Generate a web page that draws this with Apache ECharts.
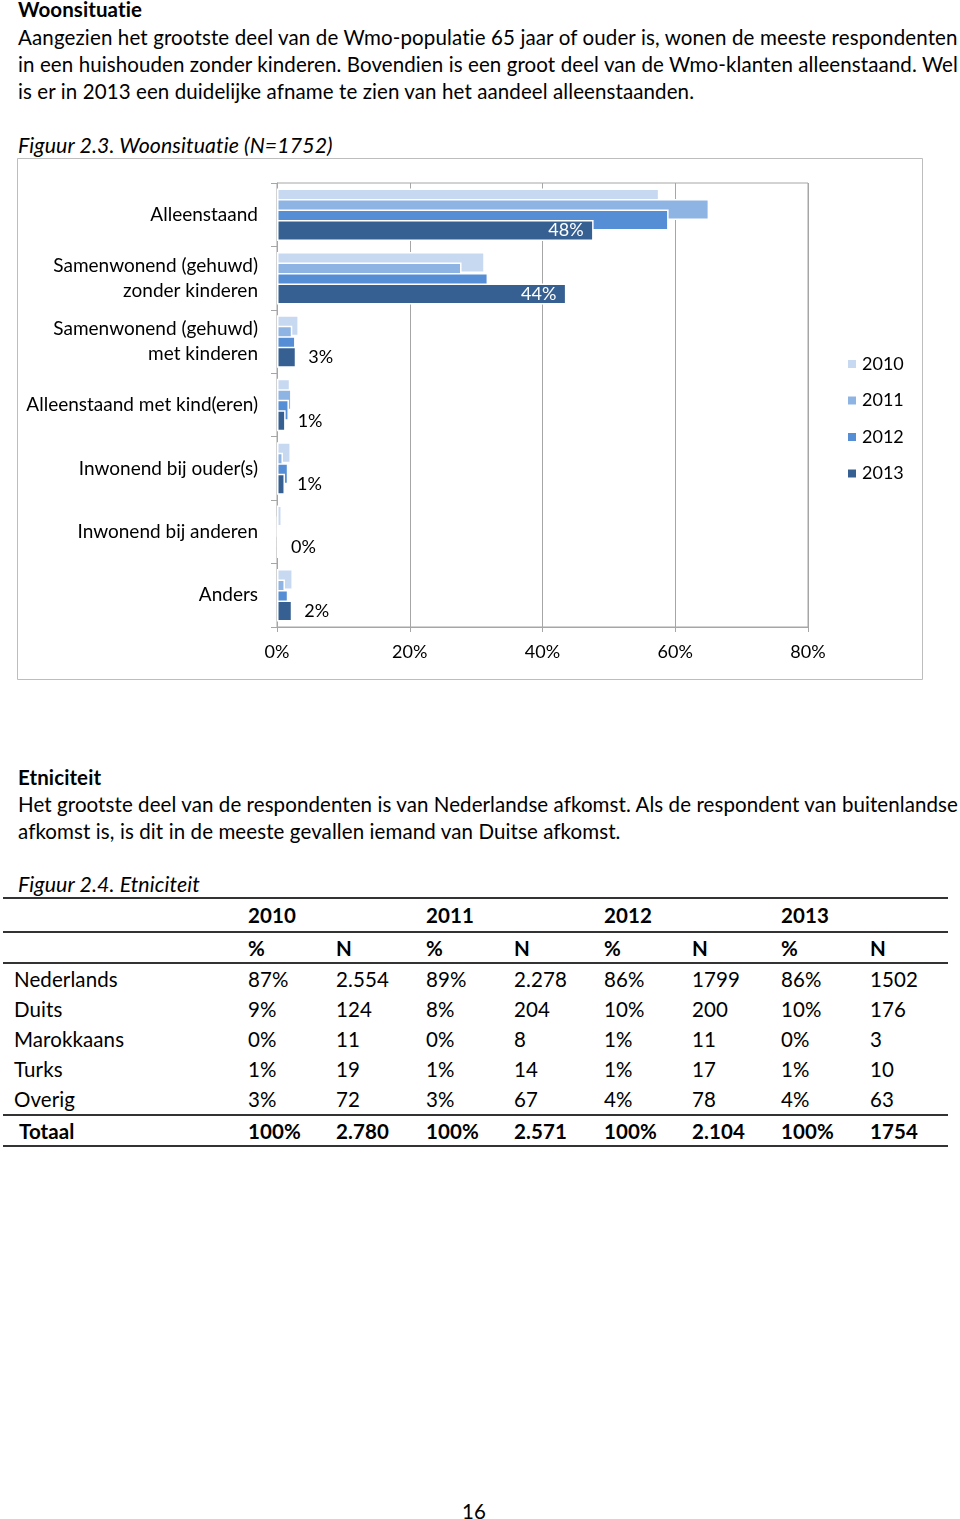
<!DOCTYPE html>
<html><head><meta charset="utf-8">
<script src="https://cdn.jsdelivr.net/npm/echarts@6/dist/echarts.min.js"></script>
<style>
html,body{margin:0;padding:0;background:#fff;}
body{width:960px;height:1519px;position:relative;overflow:hidden;font-family:Lato,'Open Sans',sans-serif;color:#000;}
.t{position:absolute;white-space:nowrap;line-height:26px;font-size:20.5px;letter-spacing:0.1px;}
.b{font-weight:bold;}
.i{font-style:italic;font-size:21.3px;}
.hl{position:absolute;left:3px;width:945px;background:#333;}
#chart{position:absolute;left:17px;top:158px;width:906px;height:522px;}
</style></head><body>
<div class="t b" style="left:18px;top:-4px">Woonsituatie</div>
<div class="t fit" data-w="940" style="left:18px;top:24px">Aangezien het grootste deel van de Wmo-populatie 65 jaar of ouder is, wonen de meeste respondenten</div>
<div class="t fit" data-w="940" style="left:18px;top:51px">in een huishouden zonder kinderen. Bovendien is een groot deel van de Wmo-klanten alleenstaand. Wel</div>
<div class="t" style="left:18px;top:78px">is er in 2013 een duidelijke afname te zien van het aandeel alleenstaanden.</div>
<div class="t i" style="left:18px;top:132px">Figuur 2.3. Woonsituatie (N=1752)</div>
<div id="chart"></div>
<div class="t b" style="left:18px;top:764px">Etniciteit</div>
<div class="t fit" data-w="940" style="left:18px;top:791px">Het grootste deel van de respondenten is van Nederlandse afkomst. Als de respondent van buitenlandse</div>
<div class="t" style="left:18px;top:818px">afkomst is, is dit in de meeste gevallen iemand van Duitse afkomst.</div>
<div class="t i" style="left:18px;top:871px">Figuur 2.4. Etniciteit</div>
<div id="table"></div>
<div class="t" style="left:462px;top:1498px">16</div>
<script>
// ---- Figure 2.3 data ----
const categories = ['Alleenstaand', 'Samenwonend (gehuwd)\nzonder kinderen', 'Samenwonend (gehuwd)\nmet kinderen', 'Alleenstaand met kind(eren)', 'Inwonend bij ouder(s)', 'Inwonend bij anderen', 'Anders'];
const years = ['2010', '2011', '2012', '2013'];
const values2010 = [57.6, 31.3, 3.3, 2.0, 2.1, 0.75, 2.4];
const values2011 = [65.1, 27.8, 2.3, 2.2, 0.9, 0.1, 1.2];
const values2012 = [59.0, 31.8, 2.8, 1.8, 1.7, 0.2, 1.7];
const values2013 = [47.7, 43.6, 2.9, 1.3, 1.2, 0.3, 2.3];
const xTicks = [0, 20, 40, 60, 80];

// ---- Figure 2.4 data ----
const ethnicRows = ['Nederlands', 'Duits', 'Marokkaans', 'Turks', 'Overig'];
const pct2010 = ['87%', '9%', '0%', '1%', '3%'];
const n2010 = ['2.554', '124', '11', '19', '72'];
const pct2011 = ['89%', '8%', '0%', '1%', '3%'];
const n2011 = ['2.278', '204', '8', '14', '67'];
const pct2012 = ['86%', '10%', '1%', '1%', '4%'];
const n2012 = ['1799', '200', '11', '17', '78'];
const pct2013 = ['86%', '10%', '0%', '1%', '4%'];
const n2013 = ['1502', '176', '3', '10', '63'];
const totalLabel = 'Totaal';
const totalPct = ['100%', '100%', '100%', '100%'];
const totalN = ['2.780', '2.571', '2.104', '1754'];

const colors = ['#c6d9f0', '#8eb4e3', '#558ed5', '#376092'];
const FONT = 'Lato';

// fit full-width paragraph lines to their measured width in the reference
document.querySelectorAll('.fit').forEach(el => {
  const target = +el.dataset.w;
  el.style.letterSpacing = '0px';
  const w = el.getBoundingClientRect().width;
  const n = el.textContent.length;
  el.style.letterSpacing = ((target - w) / n).toFixed(3) + 'px';
});

const allValues = [values2010, values2011, values2012, values2013];
const series = allValues.map((vals, i) => {
  const s = {
    name: years[i], type: 'bar', barWidth: 21, barGap: '-50%',
    itemStyle: { color: colors[i], borderColor: '#fff', borderWidth: 1.5 },
    data: vals.slice(),
    z: 2 + i
  };
  if (i === 3) {
    s.data = vals.map(v => ({
      value: v,
      label: v > 10 ? { position: 'insideRight', color: '#fff', distance: 10 } : { position: 'right', color: '#000', distance: 12 }
    }));
    s.label = { show: true, fontFamily: FONT, fontSize: 18, formatter: p => Math.round(p.value) + '%' };
  }
  return s;
});

const chart = echarts.init(document.getElementById('chart'), null, { renderer: 'canvas' });
chart.setOption({
  animation: false,
  backgroundColor: '#fff',
  graphic: [{ type: 'rect', shape: { x: 0.5, y: 0.5, width: 905, height: 521 }, style: { fill: 'none', stroke: '#bdbdbd', lineWidth: 1 } }],
  grid: { left: 260, top: 25, width: 531, height: 444, show: true, borderColor: '#a6a6a6', borderWidth: 1, backgroundColor: 'transparent' },
  legend: {
    orient: 'vertical', left: 829, top: 196, padding: 0, itemWidth: 10, itemHeight: 10, itemGap: 16.5, icon: 'rect',
    textStyle: { fontFamily: FONT, fontSize: 18, color: '#000', lineHeight: 20 },
    data: years
  },
  xAxis: {
    type: 'value', min: xTicks[0], max: xTicks[xTicks.length - 1], interval: 20,
    axisLine: { show: true, lineStyle: { color: '#a6a6a6' } },
    axisTick: { show: true, length: 5, lineStyle: { color: '#a6a6a6' } },
    splitLine: { show: true, lineStyle: { color: '#a6a6a6' } },
    axisLabel: { formatter: '{value}%', fontFamily: FONT, fontSize: 18, color: '#000', margin: 16 }
  },
  yAxis: {
    type: 'category', inverse: true, data: categories,
    axisLine: { show: true, lineStyle: { color: '#a6a6a6' } },
    axisTick: { show: true, length: 6, lineStyle: { color: '#a6a6a6' } },
    axisLabel: { fontFamily: FONT, fontSize: 19, color: '#000', margin: 19, lineHeight: 25, align: 'right' }
  },
  series: series
});

// ---- table ----
const tbl = document.getElementById('table');
function cell(text, x, y, bold) {
  const d = document.createElement('div');
  d.className = 't' + (bold ? ' b' : '');
  d.style.left = x + 'px'; d.style.top = (y - 13) + 'px';
  d.textContent = text; tbl.appendChild(d);
}
function hline(y, h) {
  const d = document.createElement('div');
  d.className = 'hl'; d.style.top = (y - h / 2) + 'px'; d.style.height = h + 'px'; tbl.appendChild(d);
}
const pctX = [248, 426, 604, 781], nX = [336, 514, 692, 870];
years.forEach((yr, i) => { cell(yr, pctX[i], 915, true); cell('%', pctX[i], 948, true); cell('N', nX[i], 948, true); });
const pcts = [pct2010, pct2011, pct2012, pct2013], ns = [n2010, n2011, n2012, n2013];
const rowY = [979, 1009, 1039, 1069, 1099];
ethnicRows.forEach((r, j) => {
  cell(r, 14, rowY[j], false);
  for (let i = 0; i < 4; i++) { cell(pcts[i][j], pctX[i], rowY[j], false); cell(ns[i][j], nX[i], rowY[j], false); }
});
cell(totalLabel, 19, 1131, true);
for (let i = 0; i < 4; i++) { cell(totalPct[i], pctX[i], 1131, true); cell(totalN[i], nX[i], 1131, true); }
hline(898, 2); hline(932, 2); hline(963, 1.5); hline(1115, 2); hline(1146, 2);
</script>
</body></html>
